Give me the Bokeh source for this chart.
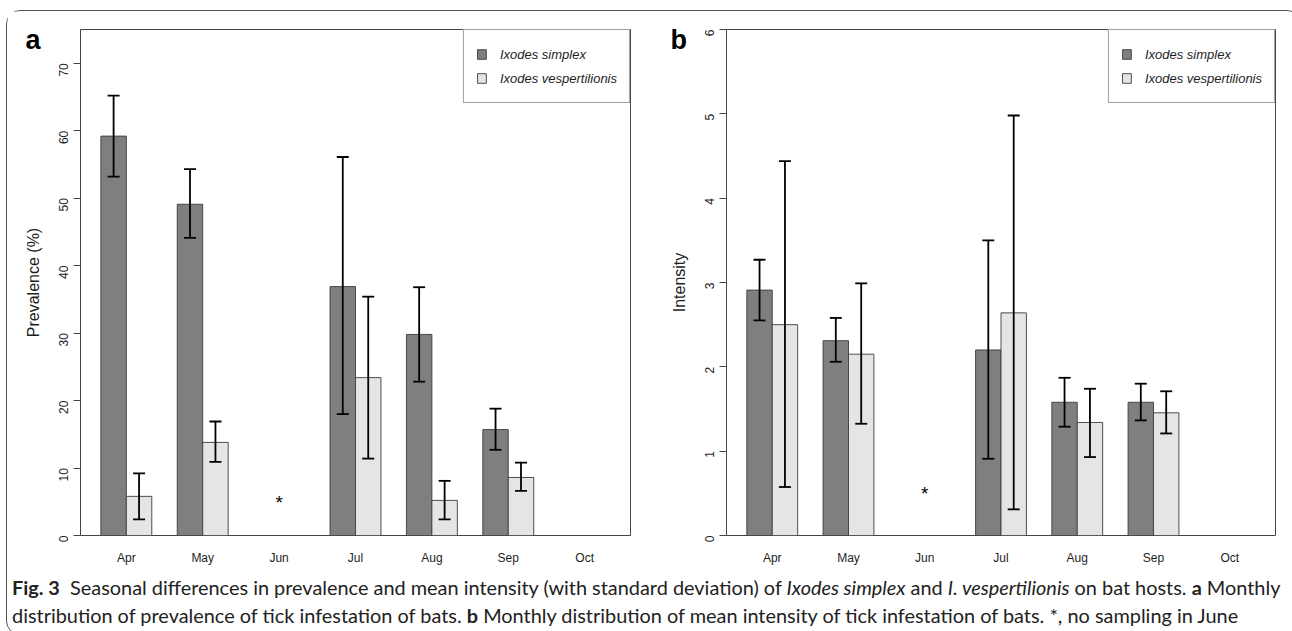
import math
from bokeh.plotting import figure
from bokeh.models import (Range1d, FixedTicker, Whisker, ColumnDataSource, Legend,
                          LegendItem, Div, TeeHead)
from bokeh.layouts import column, row
from bokeh.embed import file_html
from bokeh.resources import INLINE
from bokeh.core.properties import value

# ---------------- data ----------------
months = ["Apr", "May", "Jun", "Jul", "Aug", "Sep", "Oct"]
species = ["Ixodes simplex", "Ixodes vespertilionis"]

# panel a: prevalence (%)
prev_simplex = [59.2, 49.1, None, 36.9, 29.8, 15.7, None]
prev_simplex_lo = [53.2, 44.1, None, 18.0, 22.8, 12.7, None]
prev_simplex_hi = [65.2, 54.3, None, 56.1, 36.8, 18.8, None]
prev_vesp = [5.8, 13.8, None, 23.4, 5.2, 8.6, None]
prev_vesp_lo = [2.4, 10.9, None, 11.4, 2.4, 6.6, None]
prev_vesp_hi = [9.2, 16.9, None, 35.4, 8.1, 10.8, None]

# panel b: mean intensity
int_simplex = [2.91, 2.31, None, 2.20, 1.58, 1.58, None]
int_simplex_lo = [2.55, 2.06, None, 0.91, 1.29, 1.365, None]
int_simplex_hi = [3.27, 2.58, None, 3.50, 1.87, 1.80, None]
int_vesp = [2.50, 2.15, None, 2.64, 1.34, 1.455, None]
int_vesp_lo = [0.575, 1.325, None, 0.31, 0.93, 1.21, None]
int_vesp_hi = [4.44, 2.99, None, 4.98, 1.74, 1.71, None]

prev_ticks = [0, 10, 20, 30, 40, 50, 60, 70]
int_ticks = [0, 1, 2, 3, 4, 5, 6]

no_sampling_month = "Jun"
star_prev = 4.9
star_int = 0.5

caption_html = (
    "<b>Fig.&nbsp;3</b>&nbsp;&nbsp;Seasonal differences in prevalence and mean intensity "
    "(with standard deviation) of <i>Ixodes simplex</i> and <i>I. vespertilionis</i> on bat hosts. "
    "<b>a</b> Monthly<br>distribution of prevalence of tick infestation of bats. "
    "<b>b</b> Monthly distribution of mean intensity of tick infestation of bats. *, no sampling in June"
)

DARK = "#7f7f7f"
LIGHT = "#e5e5e5"
EDGE = "#3c3c3c"
FONT = "Liberation Sans"
TXT = "#1e1e1e"


def series_source(vals, lo, hi, offset):
    xs, tops, los, his = [], [], [], []
    for i, (v, l, h) in enumerate(zip(vals, lo, hi)):
        if v is None:
            continue
        xs.append(3 * i + 2 + offset)  # barplot layout: width 1, group space 1
        tops.append(v)
        los.append(l)
        his.append(h)
    return ColumnDataSource(dict(x=xs, top=tops, lo=los, hi=his))


def make_panel(s_vals, s_lo, s_hi, v_vals, v_lo, v_hi, ymax, yticks, ylabel,
               letter, star_y, width, bl, br, letter_offset):
    p = figure(width=width, height=557, x_range=Range1d(0.2, 21.8),
               y_range=Range1d(0, ymax), output_backend="svg",
               toolbar_location=None, min_border_left=bl, min_border_right=br,
               min_border_top=18, min_border_bottom=33, title=letter)
    p.grid.visible = False
    p.outline_line_color = "#444444"
    p.outline_line_width = 1
    p.background_fill_color = "white"

    # panel letter drawn as the figure title, pushed down beside the frame
    p.title.align = "left"
    p.title.vertical_align = "bottom"
    p.title.offset = letter_offset
    p.title.standoff = -50
    p.title.text_font = FONT
    p.title.text_font_size = "27px"
    p.title.text_font_style = "bold"
    p.title.text_color = "black"

    src_s = series_source(s_vals, s_lo, s_hi, -0.5)
    src_v = series_source(v_vals, v_lo, v_hi, 0.5)
    r1 = p.vbar(x="x", top="top", bottom=0, width=1, source=src_s,
                fill_color=DARK, line_color=EDGE, line_width=0.9)
    r2 = p.vbar(x="x", top="top", bottom=0, width=1, source=src_v,
                fill_color=LIGHT, line_color=EDGE, line_width=0.9)
    for src in (src_s, src_v):
        w = Whisker(source=src, base="x", upper="hi", lower="lo",
                    line_color="black", line_width=1.8, level="overlay",
                    upper_head=TeeHead(size=12, line_color="black", line_width=1.8),
                    lower_head=TeeHead(size=12, line_color="black", line_width=1.8))
        p.add_layout(w)

    jx = 3 * months.index(no_sampling_month) + 2
    p.text(x=[jx], y=[star_y], text=["*"], text_align="center",
           text_baseline="middle", text_font=value(FONT), text_font_size="19px",
           text_color="black")

    legend = Legend(items=[LegendItem(label=species[0], renderers=[r1]),
                           LegendItem(label=species[1], renderers=[r2])],
                    location="top_right", margin=0, padding=12, spacing=0,
                    label_height=24, glyph_height=12, glyph_width=11,
                    label_standoff=13, label_text_font_style="italic",
                    label_text_font_size="13px", label_text_font=FONT,
                    label_text_color=TXT, border_line_color="#444444",
                    border_line_width=1, background_fill_alpha=1.0)
    p.add_layout(legend)

    ya = p.yaxis[0]
    ya.ticker = FixedTicker(ticks=yticks)
    ya.minor_tick_line_color = None
    ya.major_tick_in = 0
    ya.major_tick_out = 7
    ya.major_tick_line_color = "#444444"
    ya.axis_line_color = None
    ya.major_label_orientation = math.pi / 2
    ya.major_label_standoff = 10
    ya.major_label_text_font = FONT
    ya.major_label_text_font_size = "12px"
    ya.major_label_text_color = TXT
    ya.axis_label = ylabel
    ya.axis_label_standoff = 10
    ya.axis_label_text_font = FONT
    ya.axis_label_text_font_size = "16px"
    ya.axis_label_text_font_style = "normal"
    ya.axis_label_text_color = TXT

    xa = p.xaxis[0]
    centers = [3 * i + 2 for i in range(len(months))]
    xa.ticker = FixedTicker(ticks=centers)
    xa.major_label_overrides = {c: m for c, m in zip(centers, months)}
    xa.minor_tick_line_color = None
    xa.major_tick_line_color = None
    xa.major_tick_out = 0
    xa.major_tick_in = 0
    xa.axis_line_color = None
    xa.major_label_standoff = 15
    xa.major_label_text_font = FONT
    xa.major_label_text_font_size = "12px"
    xa.major_label_text_color = TXT
    return p


pa = make_panel(prev_simplex, prev_simplex_lo, prev_simplex_hi,
                prev_vesp, prev_vesp_lo, prev_vesp_hi, 75, prev_ticks,
                "Prevalence (%)", "a", star_prev, 643, 73, 20, -55)
pb = make_panel(int_simplex, int_simplex_lo, int_simplex_hi,
                int_vesp, int_vesp_lo, int_vesp_hi, 6, int_ticks,
                "Intensity", "b", star_int, 640, 76, 15, -56)

cap = Div(text=("<div style=\"font-family:Lato,'Open Sans',sans-serif;font-size:19.9px;"
                "line-height:28px;color:#222;white-space:nowrap;padding:0;margin:0;\">"
                + caption_html + "</div>"),
          width=1283, height=56)

layout = column(row(pa, pb), cap, margin=(10, 0, 0, 6),
                styles={"border": "1px solid #555555", "border-radius": "14px",
                        "background": "white"})

open("out.html", "w").write(file_html(layout, INLINE))
